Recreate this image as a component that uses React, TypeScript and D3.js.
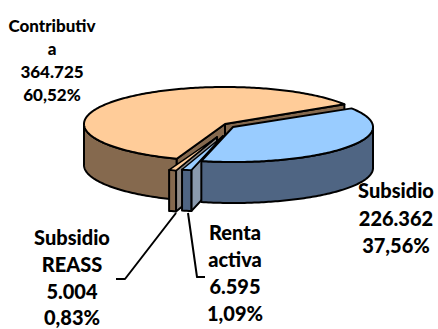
import React from "react";
import * as d3 from "d3";

const categories = ["Contributiva", "Subsidio", "Renta activa", "Subsidio REASS"];
const values = [364725, 226362, 6595, 5004];
const amounts = ["364.725", "226.362", "6.595", "5.004"];
const percents = ["60,52%", "37,56%", "1,09%", "0,83%"];
const topColors = ["#FFCC99", "#99CCFF", "#99CCFF", "#FFCC99"];
const wallColors = ["#85694E", "#4F6583", "#4F6583", "#85694E"];
const edgeColors = ["#85694E", "#8A9AAE", "#8A9AAE", "#8F8A86"];

const apexX = [225, 233, 223, 217];
const apexY = [124, 127, 136, 137];
const radiusX = [141, 140, 140, 140];
const radiusY = [37, 35, 35, 35];
const depth = 41;
const rad = Math.PI / 180;

const slices = d3
  .pie<number>()
  .sort(null)
  .startAngle(200 * rad)
  .endAngle(560 * rad)(values)
  .map((s, i) =>
    i === 0
      ? s
      : { ...s, startAngle: s.startAngle - 2 * Math.PI, endAngle: s.endAngle - 2 * Math.PI }
  );

type Pt = [number, number];
const rim = (i: number, a: number): Pt => [
  apexX[i] + radiusX[i] * Math.sin(a),
  apexY[i] - radiusY[i] * Math.cos(a),
];
const arcPts = (i: number, a0: number, a1: number): Pt[] => {
  const n = Math.max(2, Math.ceil(Math.abs(a1 - a0) / (1 * rad)));
  return d3.range(n + 1).map((k) => rim(i, a0 + ((a1 - a0) * k) / n));
};
const line = d3.line();
const closed = (p: Pt[]) => line(p) + "Z";
const down = (p: Pt): Pt => [p[0], p[1] + depth];

const topPath = (i: number) =>
  closed([[apexX[i], apexY[i]], ...arcPts(i, slices[i].startAngle, slices[i].endAngle)]);

const wallPath = (i: number) => {
  const a0 = Math.max(slices[i].startAngle, 90 * rad);
  const a1 = Math.min(slices[i].endAngle, 270 * rad);
  const p = arcPts(i, a0, a1);
  return closed([...p, ...p.slice().reverse().map(down)]);
};

const cutPath = (i: number, a: number) => {
  const apex: Pt = [apexX[i], apexY[i]];
  const r = rim(i, a);
  return closed([apex, r, down(r), down(apex)]);
};

const textFont = "Lato, 'Open Sans', sans-serif";
const Label = ({ x, ys, lines, size }: { x: number; ys: number[]; lines: string[]; size: number }) => (
  <text textAnchor="middle" fontFamily={textFont} fontWeight={900} fontSize={size} fill="#000">
    {lines.map((t, i) => (
      <tspan key={i} x={x} y={ys[i]}>{t}</tspan>
    ))}
  </text>
);

const leaderPath = d3.line();
const reassLeader: Pt[] = [[176, 213], [125, 279], [116, 279]];
const rentaLeader: Pt[] = [[188, 213], [197, 277], [205, 277]];

export default function App() {
  const stroke = { stroke: "#000", strokeWidth: 2, strokeLinejoin: "round" as const };
  return (
    <svg width={438} height={329} style={{ position: "fixed", left: 0, top: 0, background: "#fff" }}>
      {/* Contributiva */}
      <path d={wallPath(0)} fill={wallColors[0]} {...stroke} />
      <path d={cutPath(0, slices[0].startAngle)} fill={wallColors[0]} {...stroke} />
      <path d={cutPath(0, slices[0].endAngle)} fill={wallColors[0]} {...stroke} />
      <path d={topPath(0)} fill={topColors[0]} {...stroke} />
      {/* thin slices, back to front */}
      {[3, 2].map((i) => (
        <g key={categories[i]}>
          <path d={cutPath(i, slices[i].startAngle)} fill={edgeColors[i]} {...stroke} />
          <path d={wallPath(i)} fill={wallColors[i]} {...stroke} />
          <path d={topPath(i)} fill={topColors[i]} stroke="#000" strokeWidth={1.5} strokeLinejoin="round" />
        </g>
      ))}
      {/* Subsidio */}
      <path d={wallPath(1)} fill={wallColors[1]} {...stroke} />
      <path d={topPath(1)} fill={topColors[1]} {...stroke} />

      <path d={leaderPath(reassLeader)!} fill="none" {...stroke} />
      <path d={leaderPath(rentaLeader)!} fill="none" {...stroke} />

      <Label x={52} ys={[32, 55, 78, 101]} size={17} lines={["Contributiv", "a", amounts[0], percents[0]]} />
      <Label x={396} ys={[198, 226, 253]} size={20} lines={[categories[1], amounts[1], percents[1]]} />
      <Label x={72} ys={[245, 272, 299, 325]} size={20} lines={["Subsidio", "REASS", amounts[3], percents[3]]} />
      <Label x={235} ys={[240, 267, 294, 321]} size={20} lines={["Renta", "activa", amounts[2], percents[2]]} />
    </svg>
  );
}
